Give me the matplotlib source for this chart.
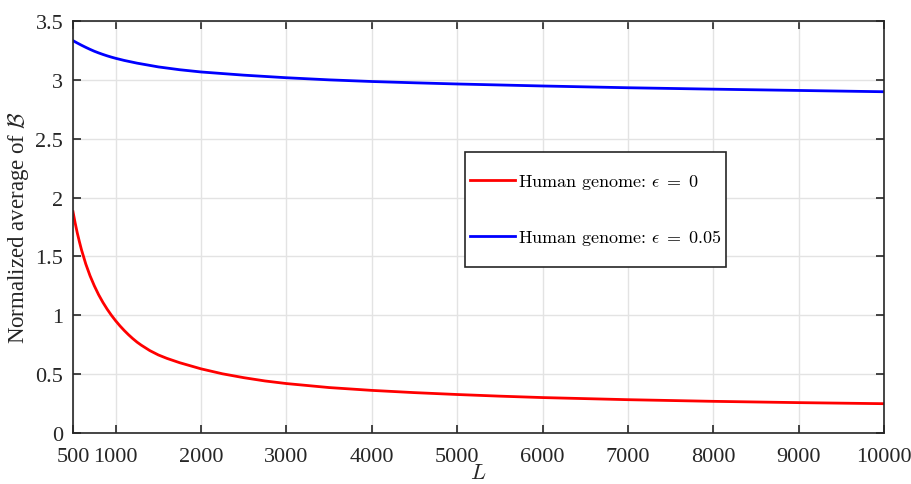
import numpy as np
import matplotlib
matplotlib.use("Agg")
from matplotlib import pyplot as plt
from matplotlib.patches import Rectangle

plt.rcParams['font.family'] = ['Liberation Serif', 'DejaVu Serif']
plt.rcParams['mathtext.fontset'] = 'cm'

# values
L_red = [500, 525, 550, 575, 600, 650, 700, 750, 800, 850, 900, 950, 1000,
         1050, 1100, 1150, 1200, 1250, 1300, 1400, 1500, 1600, 1750, 2000,
         2250, 2500, 2750, 3000, 3500, 4000, 4500, 5000, 5500, 6000, 7000,
         8000, 9000, 10000]
avg_eps0 = [1.88, 1.785, 1.70, 1.625, 1.555, 1.435, 1.335, 1.25, 1.175, 1.11,
            1.052, 1.0, 0.953, 0.91, 0.871, 0.835, 0.802, 0.772, 0.746, 0.70,
            0.663, 0.634, 0.597, 0.545, 0.503, 0.47, 0.442, 0.42, 0.386,
            0.362, 0.343, 0.327, 0.313, 0.301, 0.283, 0.269, 0.258, 0.249]

L_blue = [500, 550, 600, 650, 700, 750, 800, 850, 900, 950, 1000, 1100, 1250,
          1500, 1750, 2000, 2500, 3000, 3500, 4000, 4500, 5000, 6000, 7000,
          8000, 9000, 10000]
avg_eps005 = [3.333, 3.313, 3.294, 3.276, 3.259, 3.243, 3.229, 3.216, 3.204,
              3.193, 3.183, 3.165, 3.142, 3.11, 3.086, 3.067, 3.04, 3.018,
              3.0, 2.986, 2.975, 2.965, 2.948, 2.933, 2.921, 2.91, 2.899]

xticks = [500, 1000, 2000, 3000, 4000, 5000, 6000, 7000, 8000, 9000, 10000]
yticks = [0, 0.5, 1, 1.5, 2, 2.5, 3, 3.5]

axcol = '#262626'

fig = plt.figure(figsize=(9.11, 4.85), dpi=100)
ax = fig.add_axes([73/911, 51/485, 811/911, 412/485])

ax.plot(L_red, avg_eps0, color='red', lw=2, label=r'Human genome: $\epsilon\;=\;0$')
ax.plot(L_blue, avg_eps005, color='blue', lw=2, label=r'Human genome: $\epsilon\;=\;0.05$')

ax.set_xlim(500, 10000)
ax.set_ylim(0, 3.5)
ax.set_xticks(xticks)
ax.set_xticklabels([str(t) for t in xticks])
ax.set_yticks(yticks)
ax.set_yticklabels(['0', '0.5', '1', '1.5', '2', '2.5', '3', '3.5'])
ax.grid(True, color='#e3e3e3', lw=1)
ax.set_axisbelow(True)
ax.tick_params(direction='in', length=6, width=1.2, top=True, right=True,
               labelsize=16, colors=axcol, labelcolor=axcol)
ax.tick_params(axis='x', pad=10)
ax.tick_params(axis='y', pad=7)
for s in ax.spines.values():
    s.set_color(axcol)
    s.set_linewidth(1.2)

ax.set_xlabel(r'$L$', fontsize=16, color=axcol, labelpad=-1)
ax.set_ylabel(r'Normalized average of $\mathcal{B}$', fontsize=16.5, color=axcol, labelpad=0)
ax.yaxis.set_label_coords(-0.052, 0.5)

# legend frame drawn by hand so the padding can differ per side
x0, x1 = (465-73)/811, (726-73)/811
y0, y1 = (434-268)/412, (434-153)/412
ax.add_patch(Rectangle((x0, y0), x1-x0, y1-y0, transform=ax.transAxes,
                       facecolor='white', edgecolor=axcol, lw=1.2, zorder=4))
leg = ax.legend(loc='center', bbox_to_anchor=((x0+x1)/2, (y0+y1)/2),
                frameon=False, prop={'family': 'cmr10', 'size': 13},
                labelspacing=2.0, handlelength=2.5, handletextpad=0.15)
leg.set_zorder(5)

fig.savefig('out.png', dpi=100)
